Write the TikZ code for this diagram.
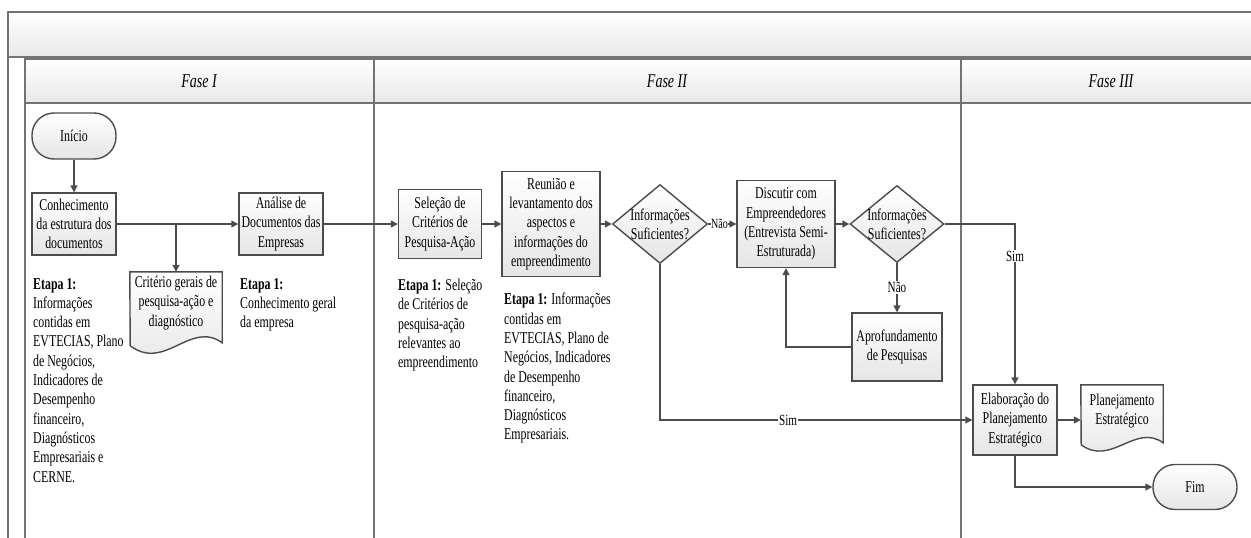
\documentclass[tikz,border=0pt]{standalone}
\usepackage{fontspec}
\setmainfont{Liberation Serif}[FakeStretch=0.72]
\usetikzlibrary{shapes.geometric,arrows.meta}
\pgfdeclarelayer{bg}
\pgfsetlayers{bg,main}
\begin{document}
\begin{tikzpicture}[x=1pt,y=-1pt,
  every node/.style={font=\fontsize{16.5}{19.3}\selectfont},
  fr/.style={draw=black!55,line width=1.4pt},
  band/.style={fr,top color=white,bottom color=black!9},
  bx/.style={draw=black!70,line width=1.4pt,top color=white,bottom color=black!10,align=center,inner sep=1pt},
  term/.style={bx,rounded corners=22pt},
  dia/.style={diamond,draw=black!70,line width=1.4pt,top color=white,bottom color=black!10,inner sep=0pt},
  docn/.style={inner sep=1pt,align=center},
  docs/.style={draw=black!70,line width=1.4pt,top color=white,bottom color=black!10},
  ln/.style={draw=black!70,line width=1.4pt},
  arr/.style={ln,-{Triangle[length=7pt,width=7pt]}},
  lbl/.style={fill=white,inner sep=1pt,font=\fontsize{15.5}{17}\selectfont},
  note/.style={anchor=north west,align=left,inner sep=0pt},
  hdr/.style={font=\fontsize{19.5}{22}\selectfont\itshape},
]
\useasboundingbox (0,0) rectangle (1251,538);
\clip (0,0) rectangle (1251,538);

% frame
\path[band] (8,12) rectangle (1262,57);
\path[band] (25,59) rectangle (1262,103);
\draw[fr] (8,57) -- (8,545);
\draw[fr] (25,59) -- (25,545);
\draw[fr] (374,59) -- (374,545);
\draw[fr] (961,59) -- (961,545);
\node[hdr] (h1) at (199,81) {Fase I};
\node[hdr] (h2) at (667,81) {Fase II};
\node[hdr] (h3) at (1111,81) {Fase III};

% nodes
\node[term,minimum width=84,minimum height=46] (ini) at (74,136) {Início};
\node[bx,minimum width=84,minimum height=62] (conh) at (74,224) {Conhecimento\\da estrutura dos\\documentos};
\node[bx,minimum width=84,minimum height=62] (anal) at (281,224) {Análise de\\Documentos das\\Empresas};
\node[bx,minimum width=83,minimum height=69] (sel) at (440,224) {Seleção de\\Critérios de\\Pesquisa-Ação};
\node[bx,minimum width=98,minimum height=105] (reun) at (551,224) {Reunião e\\levantamento dos\\aspectos e\\informações do\\empreendimento};
\node[dia,minimum width=95,minimum height=79,label={[name=d1t,align=center]center:Informações\\Suficientes?}] (d1) at (660,224) {};
\node[bx,minimum width=98,minimum height=87] (disc) at (786,224) {Discutir com\\Empreendedores\\(Entrevista Semi-\\Estruturada)};
\node[dia,minimum width=94,minimum height=77,label={[name=d2t,align=center]center:Informações\\Suficientes?}] (d2) at (897,224) {};
\node[bx,minimum width=90,minimum height=68] (apro) at (897,347) {Aprofundamento\\de Pesquisas};
\node[bx,minimum width=84,minimum height=70] (elab) at (1015,420) {Elaboração do\\Planejamento\\Estratégico};
\node[term,minimum width=84,minimum height=45] (fim) at (1195,487) {Fim};

\node[docn,minimum width=92,minimum height=62] (crit) at (176,303) {Critério gerais de\\pesquisa-ação e\\diagnóstico};
\node[docn,minimum width=82,minimum height=52] (plan) at (1122,411) {Planejamento\\Estratégico};
\begin{pgfonlayer}{bg}
\path[docs] (crit.north west) -- (crit.north east) -- ++(0,71)
  .. controls +(-32,-23) and +(35,26) .. ++(-92,3) -- cycle;
\path[docs] (plan.north west) -- (plan.north east) -- ++(0,58)
  .. controls +(-28,-20) and +(30,22) .. ++(-82,2) -- cycle;
\end{pgfonlayer}

% notes
\node[note] (n1) at (33,278) {\textbf{Etapa 1:}\\Informações\\contidas em\\EVTECIAS, Plano\\de Negócios,\\Indicadores de\\Desempenho\\financeiro,\\Diagnósticos\\Empresariais e\\CERNE.};
\node[note] (n2) at (240,278) {\textbf{Etapa 1:}\\Conhecimento geral\\da empresa};
\node[note] (n3) at (398,279) {\textbf{Etapa 1:} Seleção\\de Critérios de\\pesquisa-ação\\relevantes ao\\empreendimento};
\node[note] (n4) at (504,293) {\textbf{Etapa 1:} Informações\\contidas em\\EVTECIAS, Plano de\\Negócios, Indicadores\\de Desempenho\\financeiro,\\Diagnósticos\\Empresariais.};

% connectors
\draw[arr] (ini) -- (conh);
\draw[arr] (conh) -- (anal);
\coordinate (br) at (176,224);
\draw[arr] (br) -- (crit.north);
\draw[arr] (anal) -- (sel);
\draw[arr] (sel) -- (reun);
\draw[arr] (reun) -- (d1);
\draw[arr] (d1) -- node[lbl,inner sep=0.3pt,pos=0.4,font=\fontsize{14}{16}\selectfont]{Não} (disc);
\draw[arr] (disc) -- (d2);
\draw[arr] (d2.east) -| node[lbl,pos=0.6]{Sim} (elab.north);
\draw[arr] (d2.south) -- node[lbl]{Não} (apro.north);
\draw[arr] (apro.west) -| (disc.south);
\draw[arr] (d1.south) |- node[lbl,pos=0.705]{Sim} (elab.west);
\draw[arr] (elab.east) -- (elab.east -| plan.west);
\draw[arr] (elab.south) |- (fim.west);
\end{tikzpicture}
\end{document}
